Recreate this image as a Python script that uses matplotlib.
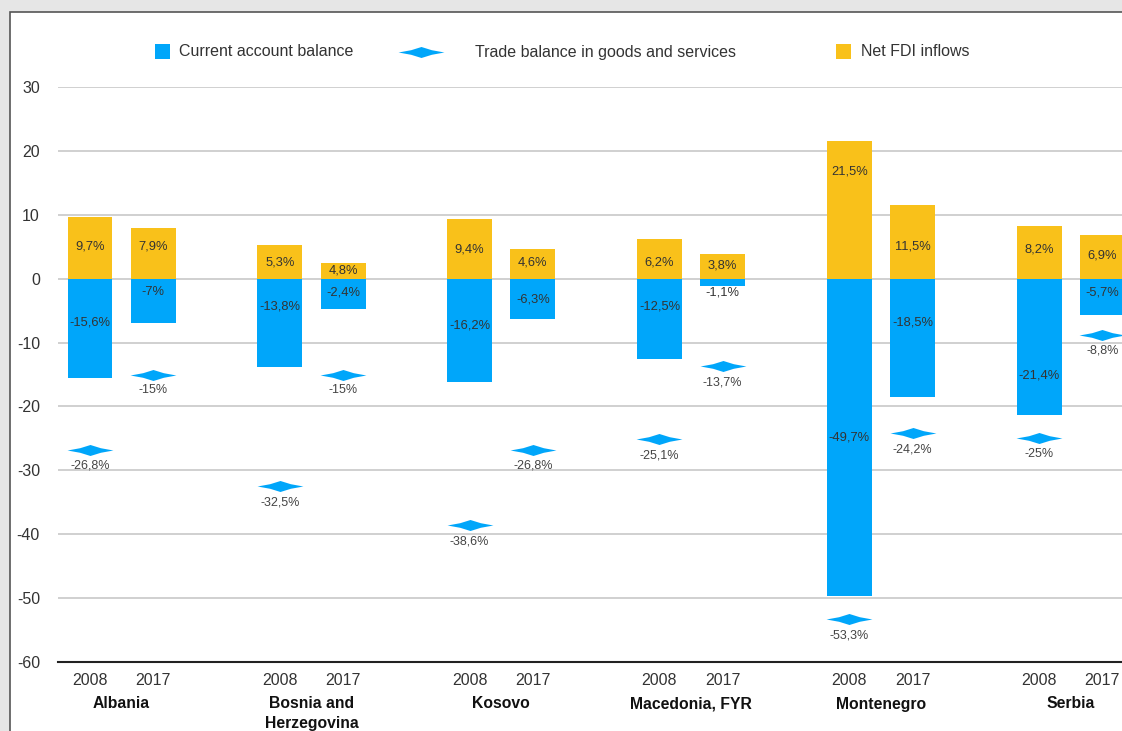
import numpy as np
import matplotlib
matplotlib.use("Agg")
import matplotlib.pyplot as plt
from matplotlib.patches import Rectangle
from matplotlib.path import Path
from matplotlib.lines import Line2D

plt.rcParams['font.family'] = ['Liberation Sans', 'DejaVu Sans']
plt.rcParams['axes.unicode_minus'] = False

# ----------------------------
# Data
# ----------------------------
countries = ["Albania", "Bosnia and\nHerzegovina", "Kosovo", "Macedonia, FYR", "Montenegro", "Serbia"]
years = ["2008", "2017"]

# bar heights as drawn (Bosnia 2017 bars are drawn swapped vs. their labels)
current_account = [-15.6, -7.0, -13.8, -4.8, -16.2, -6.3, -12.5, -1.1, -49.7, -18.5, -21.4, -5.7]
net_fdi = [9.7, 7.9, 5.3, 2.4, 9.4, 4.6, 6.2, 3.8, 21.5, 11.5, 8.2, 6.9]
trade_balance = [-26.8, -15.0, -32.5, -15.0, -38.6, -26.8, -25.1, -13.7, -53.3, -24.2, -25.0, -8.8]

ca_labels = ["-15,6%", "-7%", "-13,8%", "-2,4%", "-16,2%", "-6,3%", "-12,5%", "-1,1%",
             "-49,7%", "-18,5%", "-21,4%", "-5,7%"]
fdi_labels = ["9,7%", "7,9%", "5,3%", "4,8%", "9,4%", "4,6%", "6,2%", "3,8%",
              "21,5%", "11,5%", "8,2%", "6,9%"]
trade_labels = ["-26,8%", "-15%", "-32,5%", "-15%", "-38,6%", "-26,8%", "-25,1%", "-13,7%",
                "-53,3%", "-24,2%", "-25%", "-8,8%"]

# where the labels sit inside the bars (as placed in the original)
ca_label_y = [-6.8, -2.1, -4.3, -2.1, -7.4, -3.2, -4.3, -2.1, -24.9, -6.8, -15.2, -2.2]
fdi_label_y = [5.1, 5.1, 2.6, 1.3, 4.5, 2.6, 2.6, 2.1, 16.8, 5.0, 4.5, 3.6]

BLUE = "#00a6fa"
YELLOW = "#f9c11a"
TXT = "#333333"

# flat diamond marker
diamond = Path([(-1, 0), (-0.45, 0.1), (0, 0.24), (0.45, 0.1), (1, 0),
                (0.45, -0.1), (0, -0.24), (-0.45, -0.1), (-1, 0)],
               [Path.MOVETO] + [Path.LINETO] * 7 + [Path.CLOSEPOLY])


def main():
    fig = plt.figure(figsize=(11.22, 7.31), dpi=100)
    fig.patch.set_facecolor("#e6e6e6")
    W, H = 1122, 731
    # white panel with border
    fig.patches.append(Rectangle((10 / W, -0.05), 1.2, 1 - 12 / H + 0.05, transform=fig.transFigure,
                                 facecolor="white", edgecolor="#555555", linewidth=1.2, zorder=-5))

    ax = fig.add_axes([58 / W, 1 - 662 / H, 1064 / W, 575 / H])
    ax.set_facecolor("none")
    ax.set_zorder(2)

    n = len(countries)
    x = np.array([i * 3 + j for i in range(n) for j in range(2)], dtype=float)
    bw = 0.71

    ax.bar(x, current_account, width=bw, color=BLUE, zorder=3)
    ax.bar(x, net_fdi, width=bw, color=YELLOW, zorder=3)
    ax.plot(x, trade_balance, linestyle="none", marker=diamond, markersize=33,
            color=BLUE, markeredgewidth=0, zorder=4, clip_on=False)

    for k in range(len(x)):
        ax.text(x[k], ca_label_y[k], ca_labels[k], ha="center", va="center",
                fontsize=9.3, color=TXT, zorder=5)
        ax.text(x[k], fdi_label_y[k], fdi_labels[k], ha="center", va="center",
                fontsize=9.3, color=TXT, zorder=5)
        ax.annotate(trade_labels[k], (x[k], trade_balance[k]), xytext=(0, -11.5),
                    textcoords="offset points", ha="center", va="center",
                    fontsize=9, color="#444444", zorder=5, annotation_clip=False)

    ax.set_ylim(-60, 30)
    ax.set_xlim(-0.506, 16.31)
    ax.set_yticks(np.arange(-60, 31, 10))
    ax.yaxis.grid(True, color="#c8c8c8", linewidth=1.2, zorder=0)
    ax.set_axisbelow(True)
    for s in ["top", "right", "left"]:
        ax.spines[s].set_visible(False)
    ax.spines["bottom"].set_color("#222222")
    ax.spines["bottom"].set_linewidth(1.5)
    ax.spines["bottom"].set_zorder(6)

    ax.set_xticks(x)
    ax.set_xticklabels(years * n)
    ax.tick_params(axis="x", length=0, pad=8, labelsize=11.5, labelcolor=TXT)
    ax.tick_params(axis="y", length=0, pad=13, labelsize=11.5, labelcolor=TXT)

    for i, name in enumerate(countries):
        ax.text(i * 3 + 0.5, -0.06, name, transform=ax.get_xaxis_transform(),
                ha="center", va="top", fontsize=11.3, fontweight="bold", color="#111111",
                linespacing=1.35)

    # legend drawn by hand at the top
    fig.patches.append(Rectangle((155 / W, 1 - 59 / H), 15 / W, 15 / H, transform=fig.transFigure,
                                 facecolor=BLUE, edgecolor="none"))
    fig.text(179 / W, 1 - 52 / H, "Current account balance", ha="left", va="center",
             fontsize=11.5, color=TXT)
    fig.lines.append(Line2D([421 / W], [1 - 52 / H], transform=fig.transFigure, marker=diamond,
                            markersize=33, color=BLUE, markeredgewidth=0, linestyle="none"))
    fig.text(475 / W, 1 - 52 / H, "Trade balance in goods and services", ha="left", va="center",
             fontsize=11.5, color=TXT)
    fig.patches.append(Rectangle((836 / W, 1 - 59 / H), 15 / W, 15 / H, transform=fig.transFigure,
                                 facecolor=YELLOW, edgecolor="none"))
    fig.text(861 / W, 1 - 52 / H, "Net FDI inflows", ha="left", va="center",
             fontsize=11.5, color=TXT)

    fig.savefig("out.png", dpi=100, facecolor=fig.get_facecolor())


if __name__ == "__main__":
    main()
